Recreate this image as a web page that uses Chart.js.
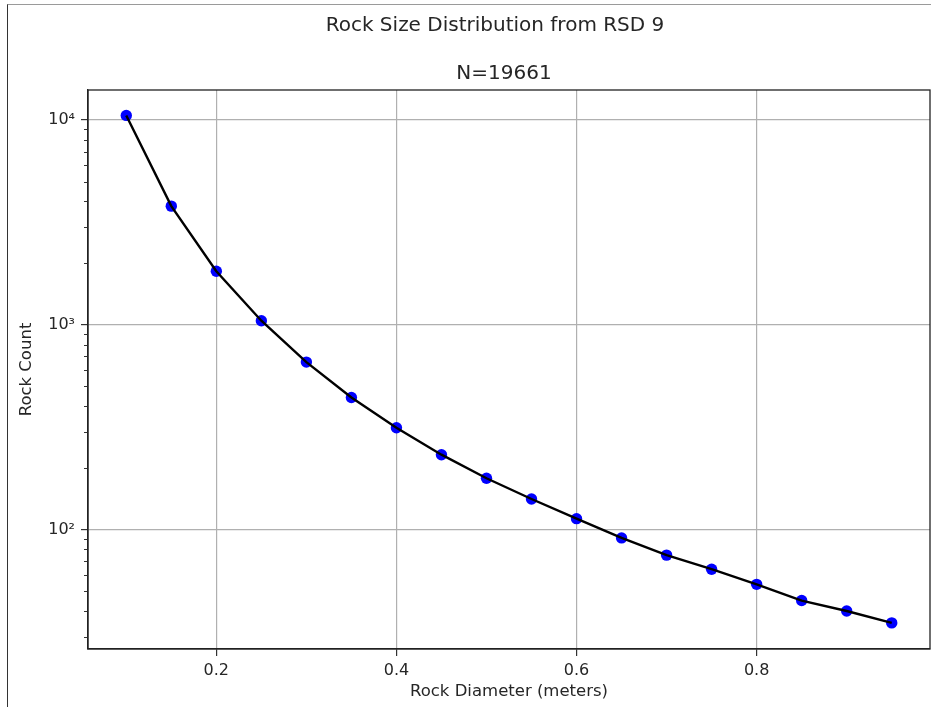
<!DOCTYPE html>
<html>
<head>
<meta charset="utf-8">
<script src="https://cdn.jsdelivr.net/npm/chart.js@4.4.1/dist/chart.umd.min.js"></script>
<style>
  html, body { margin: 0; padding: 0; background: #fff; }
  #marco { position: relative; width: 931px; height: 707px; overflow: hidden; }
  #borde { position: absolute; left: 7px; top: 4px; width: 940px; height: 720px;
           border-top: 1px solid #9a9a9a; border-left: 1.5px solid #333; }
  #grafico { position: absolute; left: 0; top: 0; }
</style>
</head>
<body>
<div id="marco">
  <div id="borde"></div>
  <canvas id="grafico" width="931" height="707"></canvas>
</div>
<script>
// datos
const diametros = [0.10, 0.15, 0.20, 0.25, 0.30, 0.35, 0.40, 0.45, 0.50,
                   0.55, 0.60, 0.65, 0.70, 0.75, 0.80, 0.85, 0.90, 0.95];
const conteos = [10520, 3794, 1824, 1046, 657, 441, 314, 232, 178,
                 141, 113, 91, 75, 64, 54, 45, 40, 35];

const ticksX = [0.2, 0.4, 0.6, 0.8];
const ticksYMayores = [100, 1000, 10000];
const etiquetasY = ["10²", "10³", "10⁴"];

const tituloPrincipal = "Rock Size Distribution from RSD 9";
const subtitulo = "N=19661";
const tituloX = "Rock Diameter (meters)";
const tituloY = "Rock Count";

// limites de ejes (con margen como matplotlib)
const limX = [0.0575, 0.9925];
const limY = [26.1, 14000];

const fuente = "'DejaVu Sans', sans-serif";
const colorTexto = "#262626";

const puntos = diametros.map((d, i) => ({ x: d, y: conteos[i] }));

// ticks menores del eje log (2..9 x 10^k)
const ticksMenores = () => {
  const lista = [];
  for (let k = 1; k <= 4; k++) {
    for (let m = 2; m <= 9; m++) {
      const v = m * Math.pow(10, k);
      if (v >= limY[0] && v <= limY[1]) lista.push(v);
    }
  }
  return lista;
};

// marco, ticks menores y titulos
const extras = {
  id: "extras",
  afterDraw(chart) {
    const { ctx, chartArea: a, scales } = chart;
    ctx.save();
    ctx.strokeStyle = "#333";
    ctx.lineWidth = 1;
    ticksMenores().forEach((v) => {
      const y = Math.round(scales.y.getPixelForValue(v)) + 0.5;
      ctx.beginPath();
      ctx.moveTo(a.left - 4, y);
      ctx.lineTo(a.left, y);
      ctx.stroke();
    });

    ctx.strokeStyle = "#222";
    ctx.lineWidth = 1.3;
    ctx.strokeRect(a.left, a.top, a.right - a.left, a.bottom - a.top);

    ctx.fillStyle = colorTexto;
    ctx.font = "20px " + fuente;
    ctx.textAlign = "center";
    ctx.textBaseline = "middle";
    ctx.fillText(tituloPrincipal, 495, 26);
    ctx.fillText(subtitulo, (a.left + a.right) / 2 - 5, 74);
    ctx.restore();
  },
};

const ctx = document.querySelector("#grafico");

const myChart = new Chart(ctx, {
  type: "line",
  data: {
    datasets: [
      {
        data: puntos,
        borderColor: "#000",
        borderWidth: 2.4,
        pointRadius: 0,
        tension: 0,
        fill: false,
        order: 0,
      },
      {
        data: puntos,
        showLine: false,
        pointRadius: 5.7,
        pointBackgroundColor: "#0000ff",
        pointBorderColor: "#0000ff",
        pointBorderWidth: 0,
        order: 1,
      },
    ],
  },
  options: {
    responsive: false,
    devicePixelRatio: 1,
    animation: false,
    layout: { autoPadding: false, padding: { top: 90, right: 1, left: 0, bottom: 0 } },
    plugins: {
      legend: { display: false },
      tooltip: { enabled: false },
    },
    scales: {
      x: {
        type: "linear",
        min: limX[0],
        max: limX[1],
        bounds: "data",
        afterBuildTicks: (s) => {
          s.ticks = ticksX.map((v) => ({ value: v }));
        },
        afterFit: (s) => {
          s.height = 58;
        },
        ticks: {
          callback: (v, i) => ticksX[i].toFixed(1),
          font: { size: 16, family: fuente },
          color: colorTexto,
          padding: 5,
          maxRotation: 0,
          autoSkip: false,
        },
        grid: { color: "#b0b0b0", lineWidth: 1.2, tickLength: 7, tickColor: "#333" },
        border: { color: "#222", width: 1.3 },
        title: {
          display: true,
          text: tituloX,
          font: { size: 16.5, family: fuente },
          color: colorTexto,
          padding: { top: 0, bottom: 5 },
        },
      },
      y: {
        type: "logarithmic",
        min: limY[0],
        max: limY[1],
        bounds: "data",
        afterBuildTicks: (s) => {
          s.ticks = ticksYMayores.map((v) => ({ value: v }));
        },
        afterFit: (s) => {
          s.width = 88;
        },
        ticks: {
          callback: (v, i) => etiquetasY[i],
          font: { size: 16, family: fuente },
          color: colorTexto,
          padding: 6,
          autoSkip: false,
        },
        grid: { color: "#b0b0b0", lineWidth: 1.2, tickLength: 7, tickColor: "#333" },
        border: { color: "#222", width: 1.3 },
        title: {
          display: true,
          text: tituloY,
          font: { size: 16.5, family: fuente },
          color: colorTexto,
          padding: { top: 17, bottom: 0 },
        },
      },
    },
  },
  plugins: [extras],
});
</script>
</body>
</html>
